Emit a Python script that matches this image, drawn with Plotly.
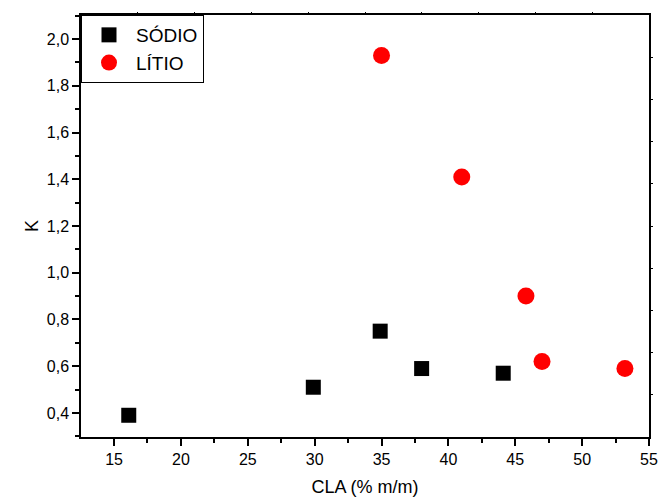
import plotly.graph_objects as go

sodio_x = [16.1, 29.9, 34.9, 38.0, 44.1]
sodio_y = [0.39, 0.51, 0.75, 0.59, 0.57]
litio_x = [35.0, 41.0, 45.8, 47.0, 53.2]
litio_y = [1.93, 1.41, 0.90, 0.62, 0.59]

x_ticks = [15, 20, 25, 30, 35, 40, 45, 50, 55]
y_ticks = [0.4, 0.6, 0.8, 1.0, 1.2, 1.4, 1.6, 1.8, 2.0]
y_tick_text = ["0,4", "0,6", "0,8", "1,0", "1,2", "1,4", "1,6", "1,8", "2,0"]

FONT = "Liberation Sans, Arial, Helvetica, sans-serif"

fig = go.Figure()
fig.add_trace(go.Scatter(
    x=sodio_x, y=sodio_y, mode="markers", name="SÓDIO",
    marker=dict(symbol="square", size=15, color="black", line=dict(width=0))))
fig.add_trace(go.Scatter(
    x=litio_x, y=litio_y, mode="markers", name="LÍTIO",
    marker=dict(symbol="circle", size=17, color="#ff0000", line=dict(width=0))))
# helper trace for the secondary (top/right) tick axes
fig.add_trace(go.Scatter(x=[None], y=[None], xaxis="x2", yaxis="y2",
                         showlegend=False, hoverinfo="skip"))

fig.update_layout(
    width=659, height=497,
    margin=dict(l=81, r=10, t=15, b=60, autoexpand=False),
    paper_bgcolor="white", plot_bgcolor="white",
    font=dict(family=FONT, size=16, color="black"),
    showlegend=True,
    legend=dict(x=0, y=1, xanchor="left", yanchor="top",
                bgcolor="white", bordercolor="black", borderwidth=1,
                font=dict(size=19, family=FONT), itemsizing="trace",
                itemwidth=44, tracegroupgap=0),
    xaxis=dict(range=[12.53, 55], tickvals=x_ticks, automargin=False,
               ticks="outside", ticklen=7, tickwidth=1.5, tickcolor="black",
               minor=dict(dtick=2.5, tick0=12.5, ticks="outside", ticklen=4,
                          tickwidth=1.5, tickcolor="black"),
               showline=True, linecolor="black", linewidth=1.5, mirror=True,
               showgrid=False, zeroline=False,
               tickfont=dict(size=16),
               title=dict(text="CLA (% m/m)", font=dict(size=18), standoff=14)),
    yaxis=dict(range=[0.297, 2.103], tickvals=y_ticks, ticktext=y_tick_text,
               automargin=False,
               ticks="outside", ticklen=7, tickwidth=1.5, tickcolor="black",
               minor=dict(dtick=0.1, tick0=0.3, ticks="outside", ticklen=4,
                          tickwidth=1.5, tickcolor="black"),
               showline=True, linecolor="black", linewidth=1.5, mirror=True,
               showgrid=False, zeroline=False,
               tickfont=dict(size=16),
               title=dict(text="K", font=dict(size=18), standoff=3)),
    xaxis2=dict(overlaying="x", side="top", range=[0, 10], automargin=False,
                tickvals=[1, 2, 3, 4, 5, 6, 7, 8, 9], showticklabels=False,
                ticks="outside", ticklen=2, tickwidth=1, tickcolor="black",
                showgrid=False, zeroline=False, showline=False),
    yaxis2=dict(overlaying="y", side="right", range=[0, 10], automargin=False,
                tickvals=[1, 2, 3, 4, 5, 6, 7, 8, 9], showticklabels=False,
                ticks="outside", ticklen=3, tickwidth=1, tickcolor="black",
                showgrid=False, zeroline=False, showline=False),
)

fig.write_html("out.html")
